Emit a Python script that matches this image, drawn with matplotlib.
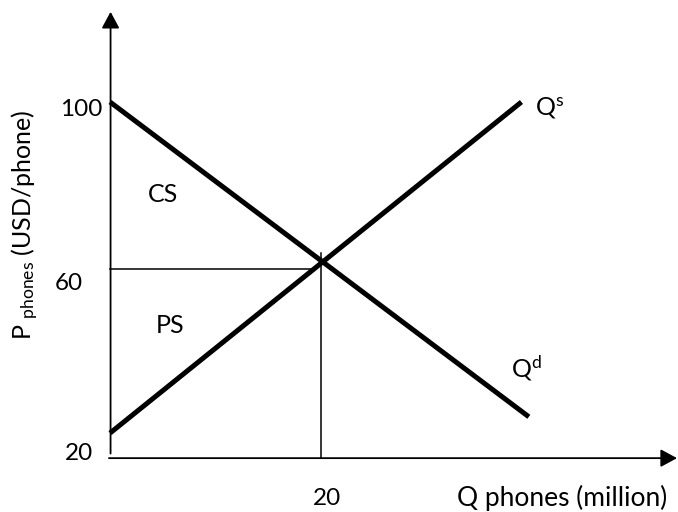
import matplotlib
matplotlib.use("Agg")
import matplotlib.pyplot as plt

plt.rcParams['font.family'] = ['Lato', 'DejaVu Sans']
plt.rcParams['mathtext.fontset'] = 'custom'
plt.rcParams['mathtext.rm'] = 'Lato'
plt.rcParams['mathtext.it'] = 'Lato'

# Data (Q in million phones, P in USD/phone)
demand_q = [0, 39.7]
demand_p = [100, 24.6]
supply_q = [0, 39.0]
supply_p = [20.7, 100]
price_ticks = [100, 60, 20]
qty_ticks = [20]
eq_q = 20
eq_p = 60

fig = plt.figure(figsize=(6.78, 5.12), dpi=100)
ax = fig.add_axes([0, 0, 1, 1])
ax.set_xlim(-10.43, 53.84)
ax.set_ylim(1.80, 124.43)
ax.axis('off')

# axes with arrows
ax.annotate('', xy=(0.05, 121.6), xytext=(0.05, 15.8),
            arrowprops=dict(arrowstyle='-|>,head_length=0.5,head_width=0.27',
                            mutation_scale=20, lw=1.3, color='black',
                            shrinkA=0, shrinkB=0))
ax.annotate('', xy=(53.75, 14.7), xytext=(-0.1, 14.7),
            arrowprops=dict(arrowstyle='-|>,head_length=0.5,head_width=0.27',
                            mutation_scale=20, lw=1.3, color='black',
                            shrinkA=0, shrinkB=0))

# demand & supply
ax.plot(demand_q, demand_p, color='black', lw=3.6, solid_capstyle='butt')
ax.plot(supply_q, supply_p, color='black', lw=3.6, solid_capstyle='butt')

# guide lines
q_at_60 = supply_q[0] + (eq_p - supply_p[0]) * (supply_q[1] - supply_q[0]) / (supply_p[1] - supply_p[0])
ax.plot([0, q_at_60], [eq_p, eq_p], color='black', lw=1.1)
ax.plot([eq_q, eq_q], [14.7, 63.9], color='black', lw=1.1)

fs_num = 17.5
fs = 18
# tick labels
ax.text(-0.76, 98.1, str(price_ticks[0]), ha='right', va='center', fontsize=fs_num)
ax.text(-2.6, 56.6, str(price_ticks[1]), ha='right', va='center', fontsize=fs_num)
ax.text(-1.6, 15.9, str(price_ticks[2]), ha='right', va='center', fontsize=fs_num)
ax.text(20.6, 5.1, str(qty_ticks[0]), ha='center', va='center', fontsize=fs_num)

ax.text(42.9, 5.1, 'Q phones (million)', ha='center', va='center', fontsize=19)
ax.text(-8.0, 70.5, r'P $_{\mathrm{phones}}$ (USD/phone)', rotation=90,
        ha='center', va='center', fontsize=fs)

ax.text(5.0, 77.9, 'CS', ha='center', va='center', fontsize=fs)
ax.text(5.7, 46.5, 'PS', ha='center', va='center', fontsize=fs)

ax.text(40.3, 98.5, r'Q$^{\mathrm{s}}$', ha='left', va='center', fontsize=fs)
ax.text(38.0, 36.3, r'Q$^{\mathrm{d}}$', ha='left', va='center', fontsize=fs)

fig.savefig('out.png', dpi=100)
